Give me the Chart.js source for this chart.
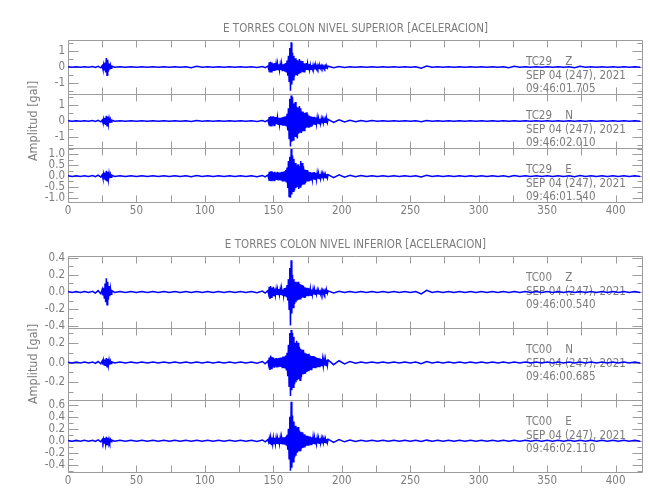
<!DOCTYPE html>
<html>
<head>
<meta charset="utf-8">
<script src="https://cdn.jsdelivr.net/npm/chart.js@4.4.1/dist/chart.umd.min.js"></script>
<style>
  body { margin: 0; background: #fff; }
  #wrap { position: relative; width: 650px; height: 500px; }
  canvas { position: absolute; left: 0; }
  #top { top: 0; }
  #bottom { top: 215px; }
</style>
</head>
<body>
<div id="wrap">
  <canvas id="top" width="650" height="230"></canvas>
  <canvas id="bottom" width="650" height="285"></canvas>
</div>
<script>
// seconds since record start (denser around the two arrivals)
const secs = [
  0, 3, 6, 9, 12, 15, 18, 20, 22, 24,
  25, 25.5, 26, 26.5, 27, 27.5, 28, 28.5, 29, 29.5, 30, 30.5, 31, 31.5, 32,
  34, 38, 42, 46, 50, 54, 58, 62, 66, 70, 74, 78, 82, 86, 90, 94, 98, 102, 106, 110,
  114, 118, 122, 126, 130, 134, 138, 142, 144, 146,
  146.5, 147, 147.5, 148, 148.5, 149, 149.5, 150, 150.5, 151, 151.5, 152, 152.5, 153, 153.5, 154, 154.5, 155, 155.5, 156,
  156.5, 157, 157.5, 158, 158.5, 159, 159.5, 160, 160.5, 161, 161.5, 162, 162.5, 163, 163.5, 164, 164.5, 165, 165.5, 166,
  166.5, 167, 167.5, 168, 168.5, 169, 169.5, 170, 170.5, 171,
  171.5, 172, 172.5, 173, 173.5, 174, 174.5, 175, 175.5, 176,
  176.5, 177, 177.5, 178, 178.5, 179, 179.5, 180, 180.5, 181,
  181.5, 182, 182.5, 183, 183.5, 184, 184.5, 185, 185.5, 186,
  186.5, 187, 187.5, 188, 188.5, 189, 189.5, 190,
  194, 198, 202, 206, 210, 214, 218, 222, 226, 230, 234, 238, 242, 246, 250, 254, 258, 262, 266, 270,
  274, 278, 282, 286, 290, 294, 298, 302, 306, 310, 314, 318, 322, 326, 330, 334, 338, 342, 346, 350,
  354, 358, 362, 366, 370, 374, 378, 382, 386, 390, 394, 398, 402, 406, 410, 414, 418
];

// TC29 (nivel superior), gal
const z29 = [
  0.02, -0.02, 0.02, -0.02, 0.02, -0.02, 0.025, -0.03, 0.04, -0.05,
  0.08, -0.12, 0.14, -0.18, 0.28, -0.35, 0.56, -0.52, 0.45, -0.3, 0.22, -0.16, 0.12, -0.08, 0.05,
  -0.02, 0.02, -0.02, 0.02, -0.02, 0.02, -0.02, 0.02, -0.02, 0.02, -0.02, 0.02, -0.02, 0.02, -0.05, 0.04, -0.02, 0.02, -0.02, 0.02,
  -0.02, 0.02, -0.02, 0.02, -0.02, 0.02, -0.025, 0.03, -0.04, 0.06,
  -0.1, 0.3, -0.35, 0.32, -0.3, 0.28, -0.25, 0.22, -0.2, 0.25, -0.22, 0.18, -0.2, 0.2, -0.15, 0.18, -0.2, 0.15, -0.18, 0.2,
  -0.22, 0.18, -0.25, 0.2, -0.3, 0.25, -0.35, 0.4, -0.55, 0.7, -0.9, 1.2, -1.5, 1.55, -1.1, 0.9, -0.8, 0.7, -0.6, 0.55,
  -0.5, 0.45, -0.55, 0.4, -0.45, 0.5, -0.35, 0.4, -0.3, 0.38,
  -0.32, 0.25, -0.3, 0.22, -0.2, 0.25, -0.18, 0.2, -0.15, 0.18,
  -0.16, 0.12, -0.14, 0.13, -0.11, 0.12, -0.1, 0.09, -0.11, 0.08,
  -0.1, 0.09, -0.08, 0.07, -0.09, 0.08, -0.07, 0.08, -0.06, 0.07,
  -0.07, 0.06, -0.06, 0.07, -0.06, 0.05, -0.06, 0.05,
  -0.04, 0.03, -0.025, 0.02, -0.02, 0.02, -0.02, 0.02, -0.02, 0.02, -0.02, 0.02, -0.02, 0.02, -0.02, 0.02, -0.07, 0.06, -0.02, 0.02,
  -0.02, 0.02, -0.02, 0.02, -0.02, 0.02, -0.02, 0.02, -0.02, 0.02, -0.02, 0.02, -0.05, 0.04, -0.02, 0.02, -0.02, 0.02, -0.02, 0.02,
  -0.02, 0.02, -0.02, 0.02, -0.04, 0.04, -0.02, 0.02, -0.02, 0.02, -0.02, 0.02, -0.02, 0.02, -0.02, 0.02, -0.02
];
const n29 = [
  0.02, -0.02, 0.02, -0.02, 0.02, -0.02, 0.025, -0.03, 0.04, -0.05,
  0.06, -0.1, 0.12, -0.15, 0.2, -0.25, 0.32, -0.3, 0.28, -0.2, 0.15, -0.12, 0.1, -0.07, 0.05,
  -0.02, 0.02, -0.02, 0.02, -0.02, 0.02, -0.02, 0.02, -0.02, 0.02, -0.02, 0.02, -0.02, 0.02, -0.03, 0.03, -0.02, 0.02, -0.02, 0.02,
  -0.02, 0.02, -0.02, 0.02, -0.02, 0.02, -0.025, 0.03, -0.04, 0.06,
  -0.1, 0.25, -0.33, 0.3, -0.3, 0.28, -0.25, 0.3, -0.28, 0.25, -0.22, 0.25, -0.2, 0.22, -0.2, 0.2, -0.22, 0.2, -0.25, 0.22,
  -0.25, 0.25, -0.3, 0.28, -0.3, 0.3, -0.35, 0.45, -0.6, 0.8, -1.1, 1.4, -1.6, 1.6, -1.3, 1.5, -1.2, 1.1, -1.0, 1.2,
  -1.0, 0.9, -1.1, 0.85, -0.8, 0.95, -0.7, 0.8, -0.75, 0.6,
  -0.65, 0.55, -0.6, 0.5, -0.45, 0.55, -0.4, 0.45, -0.38, 0.35,
  -0.4, 0.3, -0.32, 0.28, -0.3, 0.25, -0.22, 0.26, -0.2, 0.22,
  -0.18, 0.2, -0.17, 0.15, -0.18, 0.14, -0.15, 0.13, -0.14, 0.12,
  -0.13, 0.11, -0.12, 0.12, -0.1, 0.11, -0.1, 0.1,
  -0.09, 0.08, -0.06, 0.05, -0.04, 0.035, -0.03, 0.025, -0.02, 0.02, -0.02, 0.02, -0.02, 0.02, -0.02, 0.02, -0.04, 0.035, -0.02, 0.02,
  -0.02, 0.02, -0.02, 0.02, -0.02, 0.02, -0.02, 0.02, -0.02, 0.02, -0.02, 0.02, -0.02, 0.02, -0.02, 0.02, -0.02, 0.02, -0.02, 0.02,
  -0.02, 0.02, -0.02, 0.02, -0.02, 0.02, -0.02, 0.02, -0.02, 0.02, -0.02, 0.02, -0.02, 0.02, -0.02, 0.02, -0.02
];
const e29 = [
  0.017, -0.017, 0.017, -0.017, 0.017, -0.02, 0.022, -0.03, 0.04, -0.05,
  0.06, -0.09, 0.1, -0.12, 0.16, -0.2, 0.24, -0.22, 0.2, -0.16, 0.12, -0.1, 0.08, -0.05, 0.04,
  -0.017, 0.017, -0.017, 0.017, -0.017, 0.017, -0.017, 0.017, -0.017, 0.017, -0.017, 0.017, -0.017, 0.017, -0.03, 0.03, -0.017, 0.017, -0.017, 0.017,
  -0.017, 0.017, -0.017, 0.017, -0.017, 0.02, -0.025, 0.03, -0.04, 0.05,
  -0.08, 0.2, -0.23, 0.22, -0.2, 0.22, -0.2, 0.18, -0.2, 0.2, -0.18, 0.16, -0.18, 0.2, -0.17, 0.16, -0.18, 0.18, -0.2, 0.2,
  -0.22, 0.2, -0.25, 0.22, -0.25, 0.28, -0.3, 0.4, -0.55, 0.7, -0.95, 0.9, -1.0, 1.25, -0.85, 0.95, -0.7, 0.8, -0.65, 0.6,
  -0.55, 0.5, -0.5, 0.55, -0.6, 0.45, -0.5, 0.7, -0.45, 0.6,
  -0.4, 0.45, -0.35, 0.3, -0.32, 0.28, -0.25, 0.28, -0.22, 0.2,
  -0.22, 0.18, -0.17, 0.16, -0.15, 0.17, -0.16, 0.18, -0.15, 0.14,
  -0.16, 0.13, -0.12, 0.12, -0.11, 0.1, -0.11, 0.1, -0.09, 0.1,
  -0.09, 0.08, -0.09, 0.08, -0.08, 0.09, -0.08, 0.07,
  -0.07, 0.06, -0.05, 0.04, -0.03, 0.025, -0.02, 0.017, -0.017, 0.017, -0.017, 0.017, -0.017, 0.017, -0.017, 0.02, -0.04, 0.035, -0.017, 0.017,
  -0.017, 0.017, -0.017, 0.017, -0.017, 0.017, -0.017, 0.017, -0.017, 0.017, -0.017, 0.017, -0.025, 0.025, -0.017, 0.017, -0.017, 0.017, -0.017, 0.017,
  -0.017, 0.017, -0.017, 0.017, -0.025, 0.025, -0.017, 0.017, -0.017, 0.017, -0.017, 0.017, -0.017, 0.017, -0.017, 0.017, -0.017
];

// TC00 (nivel inferior), gal
const z00 = [
  0.005, -0.005, 0.005, -0.005, 0.006, -0.006, 0.008, -0.012, 0.016, -0.02,
  0.03, -0.04, 0.05, -0.07, 0.1, -0.12, 0.16, -0.15, 0.12, -0.09, 0.07, -0.05, 0.04, -0.025, 0.015,
  -0.005, 0.005, -0.005, 0.005, -0.005, 0.005, -0.005, 0.005, -0.005, 0.005, -0.005, 0.005, -0.005, 0.005, -0.005, 0.005, -0.005, 0.005, -0.005, 0.005,
  -0.005, 0.005, -0.005, 0.005, -0.005, 0.006, -0.008, 0.01, -0.013, 0.016,
  -0.02, 0.06, -0.08, 0.07, -0.06, 0.05, -0.05, 0.06, -0.04, 0.04, -0.035, 0.03, -0.035, 0.03, -0.03, 0.035, -0.03, 0.03, -0.035, 0.04,
  -0.035, 0.03, -0.04, 0.045, -0.05, 0.05, -0.06, 0.08, -0.1, 0.15, -0.2, 0.28, -0.39, 0.37, -0.25, 0.2, -0.18, 0.15, -0.14, 0.12,
  -0.12, 0.11, -0.1, 0.12, -0.09, 0.1, -0.08, 0.09, -0.07, 0.08,
  -0.065, 0.07, -0.06, 0.055, -0.06, 0.05, -0.045, 0.05, -0.04, 0.045,
  -0.04, 0.035, -0.038, 0.03, -0.032, 0.03, -0.028, 0.03, -0.025, 0.027,
  -0.024, 0.022, -0.025, 0.02, -0.022, 0.02, -0.02, 0.018, -0.02, 0.017,
  -0.018, 0.016, -0.017, 0.016, -0.015, 0.016, -0.015, 0.013,
  -0.01, 0.008, -0.006, 0.005, -0.005, 0.005, -0.005, 0.005, -0.005, 0.005, -0.005, 0.005, -0.005, 0.005, -0.005, 0.005, -0.022, 0.02, -0.005, 0.005,
  -0.005, 0.005, -0.005, 0.005, -0.005, 0.005, -0.005, 0.005, -0.005, 0.005, -0.005, 0.005, -0.005, 0.005, -0.005, 0.005, -0.005, 0.005, -0.005, 0.005,
  -0.005, 0.005, -0.005, 0.005, -0.005, 0.005, -0.005, 0.005, -0.005, 0.005, -0.005, 0.005, -0.005, 0.005, -0.005, 0.005, -0.005
];
const n00 = [
  0.004, -0.004, 0.004, -0.004, 0.005, -0.005, 0.006, -0.008, 0.01, -0.013,
  0.016, -0.02, 0.022, -0.025, 0.03, -0.035, 0.045, -0.042, 0.038, -0.03, 0.025, -0.02, 0.015, -0.01, 0.007,
  -0.004, 0.004, -0.004, 0.004, -0.004, 0.004, -0.004, 0.004, -0.004, 0.004, -0.004, 0.004, -0.004, 0.004, -0.004, 0.004, -0.004, 0.004, -0.004, 0.004,
  -0.004, 0.004, -0.004, 0.004, -0.005, 0.006, -0.008, 0.01, -0.013, 0.016,
  -0.02, 0.05, -0.075, 0.07, -0.06, 0.055, -0.05, 0.05, -0.045, 0.04, -0.04, 0.045, -0.05, 0.04, -0.04, 0.045, -0.04, 0.05, -0.045, 0.05,
  -0.05, 0.06, -0.055, 0.06, -0.06, 0.07, -0.08, 0.1, -0.14, 0.18, -0.24, 0.3, -0.34, 0.33, -0.28, 0.3, -0.25, 0.26, -0.22, 0.2,
  -0.2, 0.22, -0.18, 0.2, -0.17, 0.16, -0.18, 0.14, -0.15, 0.13,
  -0.12, 0.13, -0.11, 0.1, -0.11, 0.09, -0.095, 0.085, -0.08, 0.09,
  -0.075, 0.07, -0.072, 0.065, -0.06, 0.065, -0.055, 0.06, -0.05, 0.055,
  -0.05, 0.045, -0.048, 0.042, -0.04, 0.043, -0.038, 0.036, -0.037, 0.034,
  -0.033, 0.032, -0.03, 0.031, -0.029, 0.028, -0.028, 0.026,
  -0.022, 0.018, -0.014, 0.011, -0.008, 0.006, -0.005, 0.004, -0.004, 0.004, -0.004, 0.004, -0.004, 0.004, -0.004, 0.005, -0.012, 0.01, -0.004, 0.004,
  -0.004, 0.004, -0.004, 0.004, -0.004, 0.004, -0.004, 0.004, -0.004, 0.004, -0.004, 0.004, -0.004, 0.004, -0.004, 0.004, -0.004, 0.004, -0.004, 0.004,
  -0.004, 0.004, -0.004, 0.004, -0.004, 0.004, -0.004, 0.004, -0.004, 0.004, -0.004, 0.004, -0.004, 0.004, -0.004, 0.004, -0.004
];
const e00 = [
  0.007, -0.007, 0.007, -0.007, 0.007, -0.008, 0.01, -0.012, 0.015, -0.018,
  0.022, -0.025, 0.03, -0.035, 0.045, -0.055, 0.065, -0.06, 0.05, -0.04, 0.03, -0.025, 0.02, -0.015, 0.01,
  -0.007, 0.007, -0.007, 0.007, -0.007, 0.007, -0.007, 0.007, -0.007, 0.007, -0.007, 0.007, -0.007, 0.007, -0.007, 0.007, -0.007, 0.007, -0.007, 0.007,
  -0.007, 0.007, -0.007, 0.007, -0.008, 0.01, -0.012, 0.014, -0.016, 0.02,
  -0.02, 0.04, -0.05, 0.05, -0.06, 0.055, -0.05, 0.05, -0.045, 0.05, -0.05, 0.045, -0.05, 0.04, -0.045, 0.05, -0.045, 0.05, -0.05, 0.055,
  -0.05, 0.06, -0.06, 0.06, -0.065, 0.07, -0.08, 0.1, -0.15, 0.2, -0.3, 0.4, -0.5, 0.65, -0.45, 0.42, -0.35, 0.32, -0.28, 0.25,
  -0.25, 0.22, -0.2, 0.23, -0.18, 0.17, -0.16, 0.15, -0.13, 0.14,
  -0.12, 0.11, -0.1, 0.11, -0.09, 0.085, -0.08, 0.085, -0.07, 0.075,
  -0.065, 0.07, -0.06, 0.058, -0.055, 0.06, -0.05, 0.052, -0.048, 0.05,
  -0.045, 0.046, -0.043, 0.042, -0.04, 0.041, -0.039, 0.038, -0.037, 0.036,
  -0.035, 0.034, -0.033, 0.033, -0.032, 0.031, -0.03, 0.028,
  -0.025, 0.021, -0.017, 0.014, -0.011, 0.009, -0.008, 0.007, -0.007, 0.007, -0.007, 0.007, -0.007, 0.007, -0.007, 0.008, -0.012, 0.011, -0.007, 0.007,
  -0.007, 0.007, -0.007, 0.007, -0.007, 0.007, -0.007, 0.007, -0.007, 0.007, -0.007, 0.007, -0.007, 0.007, -0.007, 0.007, -0.007, 0.007, -0.007, 0.007,
  -0.007, 0.007, -0.007, 0.007, -0.007, 0.007, -0.007, 0.007, -0.007, 0.007, -0.007, 0.007, -0.007, 0.007, -0.007, 0.007, -0.007
];

const xTicks = [0, 50, 100, 150, 200, 250, 300, 350, 400];
const ticksZ29 = [-1, 0, 1];
const ticksN29 = [-1, 0, 1];
const ticksE29 = [-1, -0.5, 0, 0.5, 1];
const ticksZ00 = [-0.4, -0.2, 0, 0.2, 0.4];
const ticksN00 = [-0.2, 0, 0.2];
const ticksE00 = [-0.4, -0.2, 0, 0.2, 0.4, 0.6];

const stations29 = ['TC29    Z', 'TC29    N', 'TC29    E'];
const stations00 = ['TC00    Z', 'TC00    N', 'TC00    E'];
const starts29 = ['09:46:01.705', '09:46:02.010', '09:46:01.540'];
const starts00 = ['09:46:00.540', '09:46:00.685', '09:46:02.110'];
const dateLabel = 'SEP 04 (247), 2021';

const FONT = "'Liberation Sans Narrow', 'DejaVu Sans Condensed', 'Arial Narrow', sans-serif";
const INK = '#7c7c7c';
const EDGE = '#9c9c9c';
const TRACE = '#0000ff';

[z29, n29, e29, z00, n00, e00].forEach(function (a, i) {
    if (a.length !== secs.length) console.warn('trace ' + i + ' has ' + a.length + ' values, expected ' + secs.length);
});

function framePlugin(panels) {
    return {
        id: 'frame',
        beforeDatasetsDraw: function (chart) {
            const ctx = chart.ctx;
            const xs = chart.scales.x;
            const L = Math.round(xs.left) + 0.5;
            const R = Math.round(xs.right) - 0.5;
            ctx.save();
            ctx.lineWidth = 1;
            ctx.strokeStyle = EDGE;
            panels.forEach(function (p) {
                const ys = chart.scales[p.id];
                const T = Math.round(ys.top) + 0.5;
                const B = Math.round(ys.bottom) + 0.5;
                ctx.beginPath();
                ctx.rect(L, T, R - L, B - T);
                for (let t = xs.min; t <= xs.max; t += 25) {
                    const px = Math.round(xs.getPixelForValue(t)) + 0.5;
                    ctx.moveTo(px, T); ctx.lineTo(px, T + 7);
                    ctx.moveTo(px, B); ctx.lineTo(px, B - 7);
                }
                const first = Math.ceil(ys.min / p.minor - 1e-6) * p.minor;
                for (let v = first; v <= ys.max + 1e-6; v += p.minor) {
                    const py = Math.round(ys.getPixelForValue(v)) + 0.5;
                    const major = p.ticks.some(function (tv) { return Math.abs(tv - v) < 1e-6; });
                    const len = major ? 10 : 5;
                    ctx.moveTo(L, py); ctx.lineTo(L + len, py);
                    ctx.moveTo(R, py); ctx.lineTo(R - len, py);
                }
                ctx.stroke();

                ctx.fillStyle = INK;
                ctx.font = '11.5px ' + FONT;
                ctx.textAlign = 'left';
                ctx.textBaseline = 'middle';
                ctx.fillText(p.station, 526, ys.top + 22);
                ctx.fillText(dateLabel, 526, ys.top + 36);
                ctx.fillText(p.start, 526, ys.top + 49);
            });
            const mid = chart.scales[panels[1].id];
            ctx.translate(34, (mid.top + mid.bottom) / 2);
            ctx.rotate(-Math.PI / 2);
            ctx.fillStyle = INK;
            ctx.font = '12.5px ' + FONT;
            ctx.textAlign = 'center';
            ctx.textBaseline = 'middle';
            ctx.fillText('Amplitud [gal]', 0, 0);
            ctx.restore();
        }
    };
}

function makePanel(canvasId, title, titlePad, panels) {
    const scales = {
        x: {
            type: 'linear', min: 0, max: 420,
            grid: { display: false, drawTicks: false },
            border: { display: false },
            ticks: { color: INK, font: { family: FONT, size: 11.5 }, padding: 2, maxRotation: 0, autoSkip: false },
            afterBuildTicks: function (s) { s.ticks = xTicks.map(function (v) { return { value: v }; }); },
            afterFit: function (s) { s.height = 22; }
        }
    };
    panels.forEach(function (p, i) {
        scales[p.id] = {
            type: 'linear', position: 'left', stack: 'g', stackWeight: 1, weight: panels.length - i,
            min: p.min, max: p.max,
            grid: { display: false, drawTicks: false },
            border: { display: false },
            ticks: {
                color: INK, font: { family: FONT, size: 11.5 }, padding: 3, autoSkip: false,
                callback: function (v) { return Number(v).toFixed(p.decimals); }
            },
            afterBuildTicks: function (s) { s.ticks = p.ticks.map(function (v) { return { value: v }; }); },
            afterFit: function (s) { s.width = 68; }
        };
    });

    new Chart(document.getElementById(canvasId), {
        type: 'line',
        data: {
            datasets: panels.map(function (p) {
                return {
                    data: secs.map(function (t, i) { return { x: t, y: p.values[i] }; }),
                    yAxisID: p.id,
                    borderColor: TRACE,
                    borderWidth: 1.5,
                    pointRadius: 0,
                    tension: 0,
                    fill: false
                };
            })
        },
        options: {
            responsive: false,
            animation: false,
            events: [],
            layout: { padding: { left: 0, right: 7, top: 0, bottom: 6 } },
            scales: scales,
            plugins: {
                legend: { display: false },
                tooltip: { enabled: false },
                title: {
                    display: true, text: title, color: INK, fullSize: false,
                    font: { family: FONT, size: 11.5, weight: 'normal' },
                    padding: titlePad
                }
            }
        },
        plugins: [framePlugin(panels)]
    });
}

makePanel('top', 'E TORRES COLON NIVEL SUPERIOR [ACELERACION]', { top: 22.3, bottom: 3.9 }, [
    { id: 'yz', values: z29, min: -1.7, max: 1.7, ticks: ticksZ29, decimals: 0, minor: 0.5, station: stations29[0], start: starts29[0] },
    { id: 'yn', values: n29, min: -1.7, max: 1.7, ticks: ticksN29, decimals: 0, minor: 0.5, station: stations29[1], start: starts29[1] },
    { id: 'ye', values: e29, min: -1.2, max: 1.3, ticks: ticksE29, decimals: 1, minor: 0.25, station: stations29[2], start: starts29[2] }
]);

makePanel('bottom', 'E TORRES COLON NIVEL INFERIOR [ACELERACION]', { top: 23.1, bottom: 4.1 }, [
    { id: 'yz', values: z00, min: -0.42, max: 0.42, ticks: ticksZ00, decimals: 1, minor: 0.1, station: stations00[0], start: starts00[0] },
    { id: 'yn', values: n00, min: -0.38, max: 0.35, ticks: ticksN00, decimals: 1, minor: 0.1, station: stations00[1], start: starts00[1] },
    { id: 'ye', values: e00, min: -0.52, max: 0.68, ticks: ticksE00, decimals: 1, minor: 0.1, station: stations00[2], start: starts00[2] }
]);
</script>
</body>
</html>
